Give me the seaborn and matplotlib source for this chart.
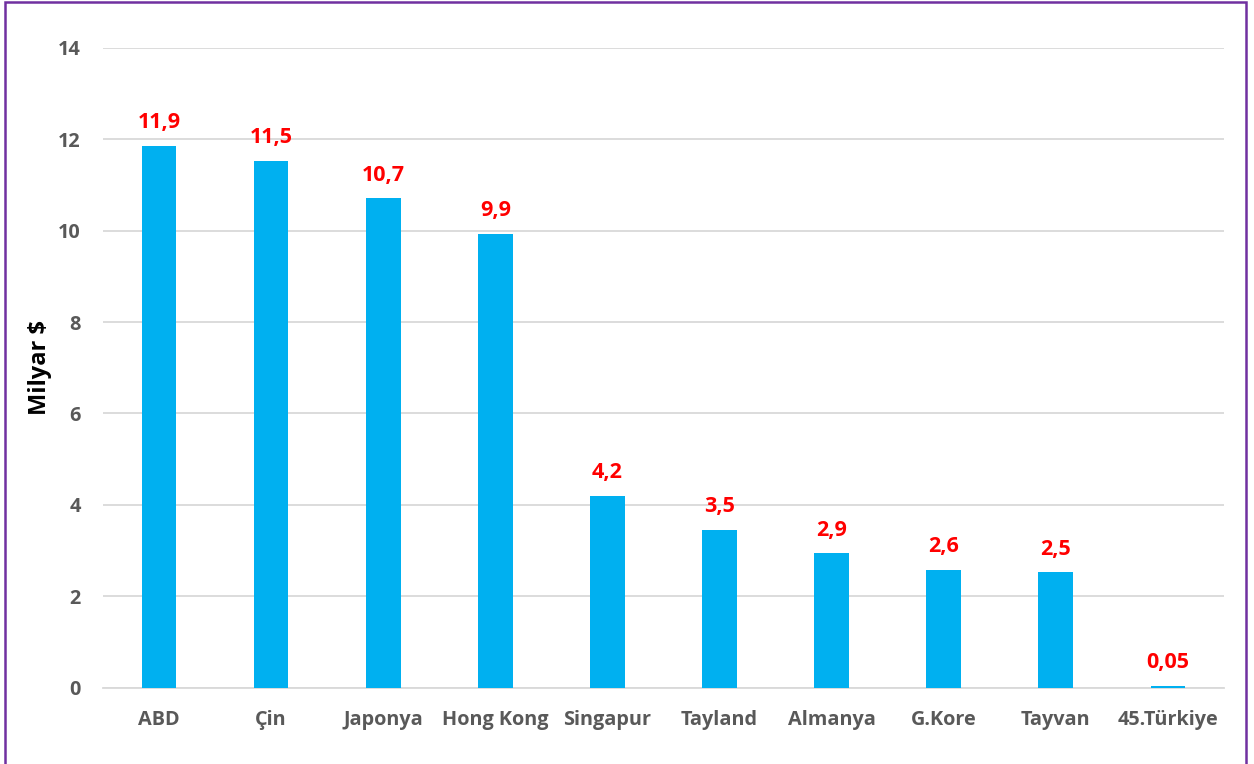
import matplotlib
matplotlib.use("Agg")
import matplotlib.pyplot as plt
import matplotlib.patches as mpatches
import pandas as pd
import seaborn as sns

countries = ["ABD", "Çin", "Japonya", "Hong Kong", "Singapur", "Tayland",
             "Almanya", "G.Kore", "Tayvan", "45.Türkiye"]
values = [11.85, 11.53, 10.71, 9.93, 4.20, 3.46, 2.94, 2.58, 2.53, 0.05]
labels = ["11,9", "11,5", "10,7", "9,9", "4,2", "3,5", "2,9", "2,6", "2,5", "0,05"]
yticks = [0, 2, 4, 6, 8, 10, 12, 14]

df = pd.DataFrame({"country": countries, "value": values})

sns.set_style("white")
plt.rcParams["font.family"] = ["Open Sans", "DejaVu Sans"]

fig = plt.figure(figsize=(12.54, 7.64), dpi=100)
ax = fig.add_axes([0.0821, 0.0995, 0.894, 0.8383])

sns.barplot(data=df, x="country", y="value", color="#00B0F0", saturation=1,
            width=0.31, ax=ax, zorder=3, linewidth=0)

ax.set_ylim(0, 14)
ax.set_xlim(-0.5, len(countries) - 0.5)
ax.set_yticks(yticks)
ax.set_yticklabels([str(t) for t in yticks])
ax.yaxis.grid(True, color="#D9D9D9", linewidth=1.3)
ax.set_axisbelow(True)
for s in ["top", "right", "left"]:
    ax.spines[s].set_visible(False)
ax.spines["bottom"].set_color("#D9D9D9")
ax.spines["bottom"].set_linewidth(1.3)
ax.spines["bottom"].set_zorder(1)
ax.tick_params(axis="both", length=0, labelsize=14.3, labelcolor="#595959")
ax.tick_params(axis="x", pad=16)
ax.tick_params(axis="y", pad=16)
for t in ax.get_xticklabels() + ax.get_yticklabels():
    t.set_fontweight("bold")

ax.set_xlabel("")
ax.set_ylabel("Milyar $", fontsize=17, fontweight="bold", color="black", labelpad=4)

for i, (v, lab) in enumerate(zip(values, labels)):
    ax.annotate(lab, (i, v), xytext=(0, 9), textcoords="offset points",
                ha="center", va="bottom", color="#FF0000", fontsize=15.5,
                fontweight="bold")

border = mpatches.Rectangle((0.0036, -0.01), 0.99, 1.0074, transform=fig.transFigure,
                            fill=False, edgecolor="#7030A0", linewidth=1.8)
fig.patches.append(border)

fig.savefig("out.png", dpi=100)
